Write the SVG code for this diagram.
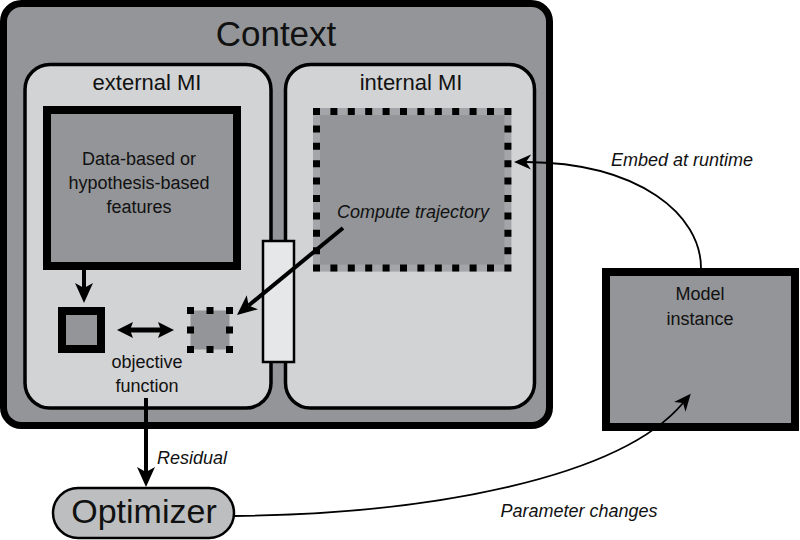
<svg xmlns="http://www.w3.org/2000/svg" width="800" height="540" viewBox="0 0 800 540">
<style>
text{font-family:"Liberation Sans",Arial,sans-serif;fill:#111;}
.it{font-style:italic;font-size:18px;}
.lbl{font-size:18px;text-anchor:middle;}
.dark{fill:#939598;}
.thick{stroke:#000;stroke-width:8;}
.conn{fill:none;stroke:#000;}
</style>
<defs>
<marker id="ah" markerUnits="userSpaceOnUse" markerWidth="20" markerHeight="20" viewBox="0 -10 20 20" refX="5" refY="0" orient="auto">
<path d="M0,-9 L20,0 L0,9 L5,0 Z" fill="#000"/>
</marker>
<marker id="dh" markerUnits="userSpaceOnUse" markerWidth="16" markerHeight="18" viewBox="0 -9 16 18" refX="3" refY="0" orient="auto-start-reverse">
<path d="M0,-8 L16,0 L0,8 L3,0 Z" fill="#000"/>
</marker>
<marker id="th" markerUnits="userSpaceOnUse" markerWidth="18" markerHeight="18" viewBox="0 -9 18 18" refX="5" refY="0" orient="auto">
<path d="M0,-7.5 L17,0 L0,7.5 L5,0 Z" fill="#000"/>
</marker>
</defs>

<g id="context">
<rect x="3.5" y="3.5" width="546" height="422" rx="18" fill="#939598" stroke="#000" stroke-width="7"/>
<text x="276" y="46" font-size="35" text-anchor="middle">Context</text>
</g>

<g id="external-mi">
<rect x="25" y="64.5" width="246" height="343.5" rx="25" fill="#d1d3d4" stroke="#000" stroke-width="3.5"/>
<text x="147" y="90" font-size="22" text-anchor="middle">external MI</text>
</g>

<g id="internal-mi">
<rect x="285.5" y="64.5" width="249" height="343.5" rx="25" fill="#d1d3d4" stroke="#000" stroke-width="3.5"/>
<text x="411" y="90" font-size="22" text-anchor="middle">internal MI</text>
</g>

<g id="features">
<rect x="47" y="110" width="190" height="156" class="dark thick"/>
<text class="lbl" x="139" y="165">Data-based or</text>
<text class="lbl" x="139" y="189">hypothesis-based</text>
<text class="lbl" x="139" y="213">features</text>
</g>

<g id="feature-target">
<rect x="62" y="311" width="39" height="38" class="dark thick"/>
</g>

<g id="simulated-feature">
<rect x="190.5" y="310.5" width="39" height="39" fill="#939598" stroke="#000" stroke-width="7" stroke-dasharray="7 12.5" stroke-dashoffset="3.5"/>
</g>

<g id="objective-label">
<text class="lbl" x="147" y="368" font-size="19">objective</text>
<text class="lbl" x="147" y="392" font-size="19">function</text>
</g>

<g id="trajectory">
<rect x="316.5" y="111.5" width="191.4" height="156.6" fill="#939598" stroke="#a3a5a8" stroke-width="7"/>
<rect x="316.5" y="111.5" width="191.4" height="156.6" fill="none" stroke="#000" stroke-width="7" stroke-dasharray="7 10.4" stroke-dashoffset="3.5"/>
<text class="it" x="413" y="218" text-anchor="middle">Compute trajectory</text>
</g>

<g id="interface-bar">
<rect x="263" y="241" width="31" height="121" fill="#e6e7e8" stroke="#000" stroke-width="2.5"/>
</g>

<g id="model-instance">
<rect x="606" y="272" width="189" height="155" class="dark thick"/>
<text class="lbl" x="700" y="300" font-size="19">Model</text>
<text class="lbl" x="700" y="325" font-size="19">instance</text>
</g>

<g id="optimizer">
<rect x="53" y="488" width="181" height="50" rx="25" fill="#bcbec0" stroke="#000" stroke-width="2.5"/>
<text x="144" y="523" font-size="34" text-anchor="middle">Optimizer</text>
</g>

<g id="connectors">
<path class="conn" stroke-width="4" d="M84,270 L84,288" marker-end="url(#ah)"/>
<path class="conn" stroke-width="5" d="M130,330 L161,330" marker-start="url(#dh)" marker-end="url(#dh)"/>
<path class="conn" stroke-width="4" d="M343,228 L248.6,305.5" marker-end="url(#ah)"/>
<path class="conn" stroke-width="4" d="M146,398 L146,472" marker-end="url(#ah)"/>
<path class="conn" stroke-width="1.8" d="M701,268 C701,215 640,163 526,162" marker-end="url(#th)"/>
<path class="conn" stroke-width="1.8" d="M234,516 C430,514 620,478 683,403" marker-end="url(#th)"/>
<text class="it" x="157" y="464">Residual</text>
<text class="it" x="682" y="166" text-anchor="middle">Embed at runtime</text>
<text class="it" x="579" y="517" text-anchor="middle">Parameter changes</text>
</g>
</svg>
